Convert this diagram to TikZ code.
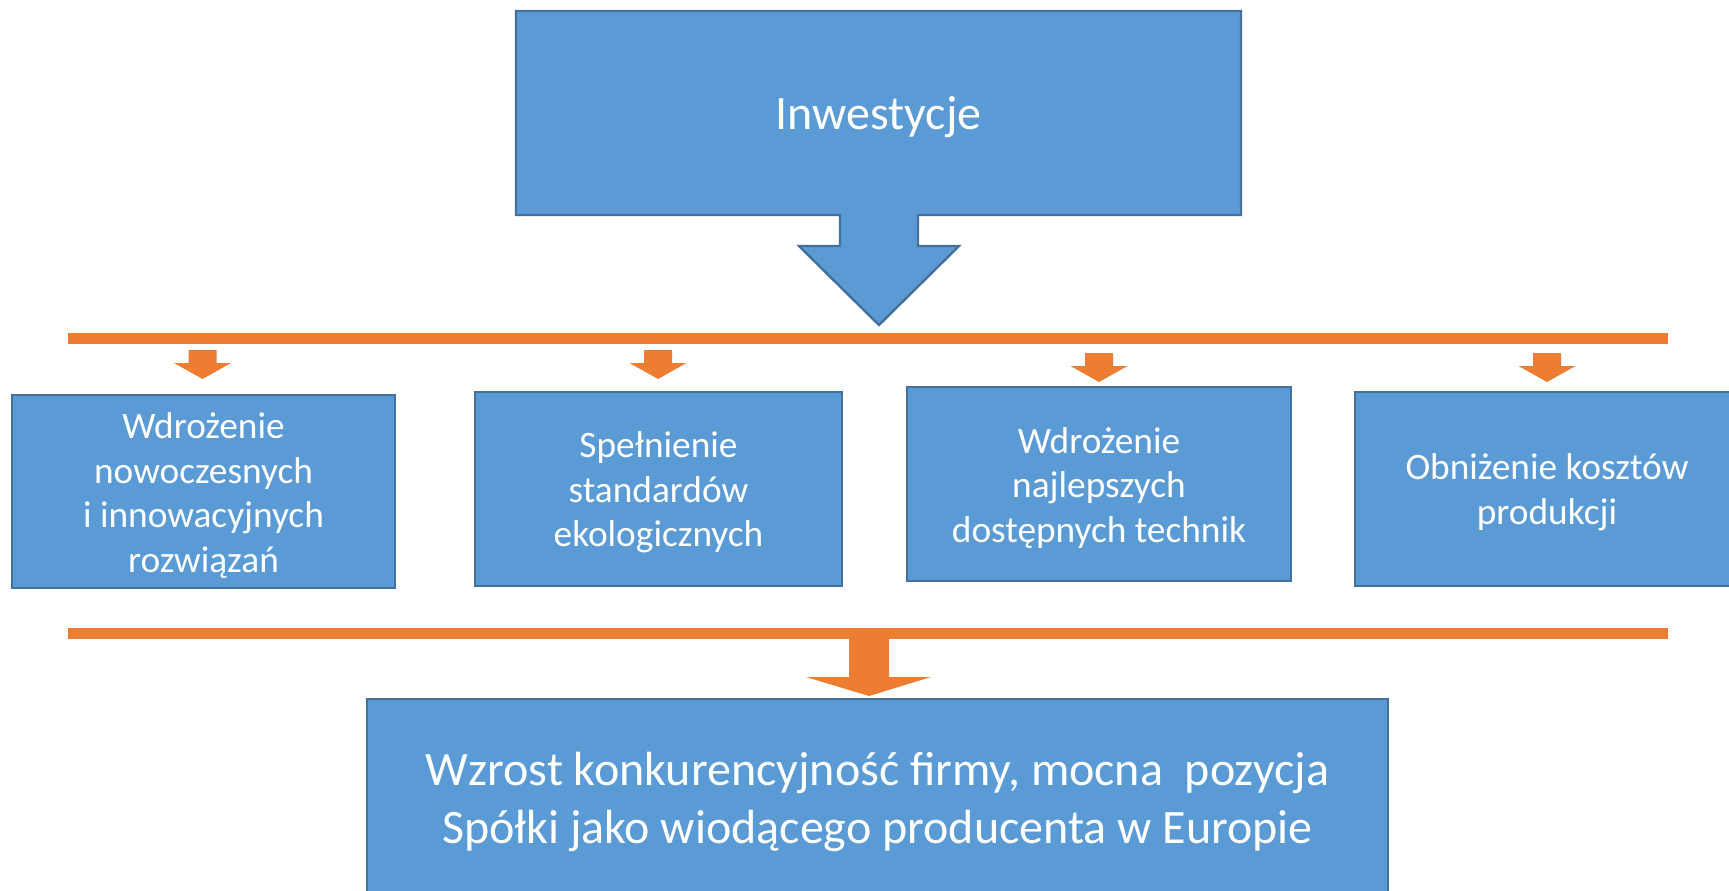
\documentclass[tikz,border=0pt]{standalone}
\usepackage{fontspec}
\setmainfont{Carlito}
\usetikzlibrary{backgrounds}
\definecolor{boxblue}{HTML}{5B9BD5}
\definecolor{boxedge}{HTML}{41719C}
\definecolor{orangeA}{HTML}{ED7D31}
\begin{document}
\begin{tikzpicture}[x=0.75pt,y=-0.75pt,
  bluebox/.style={draw=boxedge, line width=1.8pt, fill=boxblue, inner sep=0pt},
  rowtext/.style={text=white, align=center, inner sep=0pt, font=\fontsize{28}{33.3}\selectfont},
  obar/.style={fill=orangeA, draw=none, inner sep=0pt, minimum width=1200pt, minimum height=8.25pt},
  smallarr/.pic={\fill[orangeA] (-14,0) -- (14,0) -- (14,13) -- (28.5,13) -- (0,29) -- (-28.5,13) -- (-14,13) -- cycle;}]
\useasboundingbox (0,0) rectangle (1729,890);

% top box with arrow
\node[text=white, inner sep=0pt, minimum width=543.75pt, minimum height=153pt,
      font=\fontsize{36}{42}\selectfont] (top) at (878.5,117) {Inwestycje};
\begin{scope}[on background layer]
\draw[boxedge, line width=1.8pt, fill=boxblue, line join=miter]
  (516,215) -- (516,11) -- (1241,11) -- (1241,215)
  -- (918,215) -- (918,246) -- (959,246) -- (879,325) -- (799,246) -- (840,246) -- (840,215) -- cycle;
\end{scope}

% orange bars
\node[obar] (bar1) at (868,338.5) {};
\node[obar] (bar2) at (868,633.5) {};

% small arrows
\pic at (202.5,350) {smallarr};
\pic at (658,350) {smallarr};
\pic at (1099,353) {smallarr};
\pic at (1547,353) {smallarr};

% row boxes
\node[bluebox, minimum width=287.25pt, minimum height=144.75pt] (b1) at (203.5,491.5) {};
\node[rowtext] (t1) at ([yshift=-3pt]b1.center) {Wdrożenie\\nowoczesnych\\i innowacyjnych\\rozwiązań};
\node[bluebox, minimum width=275.25pt, minimum height=145.5pt] (b2) at (658.5,489) {};
\node[rowtext] (t2) at ([yshift=-2.5pt]b2.center) {Spełnienie\\standardów\\ekologicznych};
\node[bluebox, minimum width=288pt, minimum height=145.5pt] (b3) at (1099,484) {};
\node[rowtext] (t3) at ([yshift=-3pt]b3.center) {Wdrożenie\\najlepszych\\dostępnych technik};
\node[bluebox, minimum width=288pt, minimum height=145.5pt] (b4) at (1547,489) {};
\node[rowtext] (t4) at ([yshift=-2.5pt]b4.center) {Obniżenie kosztów\\produkcji};

% big orange arrow
\fill[orangeA] (849,639) -- (889,639) -- (889,677) -- (931,677) -- (869,696) -- (806,677) -- (849,677) -- cycle;

% bottom box
\node[bluebox, text=white, align=center, font=\fontsize{36}{43.5}\selectfont, minimum width=765.75pt, minimum height=154.5pt] (bottom) at (877.5,802)
  {Wzrost konkurencyjność firmy, mocna~ pozycja\\Spółki jako wiodącego producenta w Europie};
\end{tikzpicture}
\end{document}
